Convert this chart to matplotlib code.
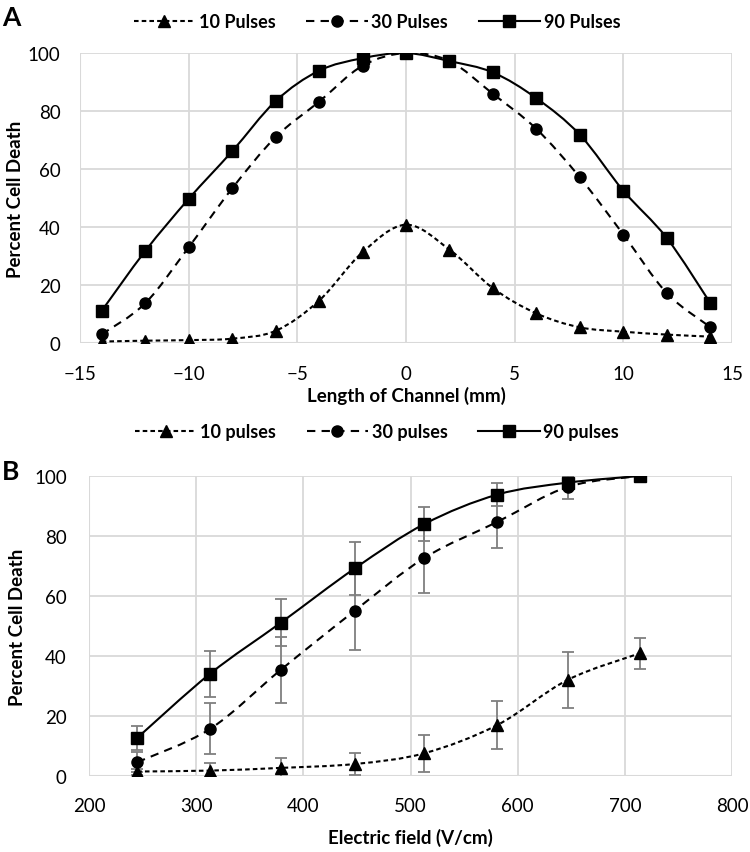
import numpy as np
import matplotlib
matplotlib.use("Agg")
import matplotlib.pyplot as plt
from matplotlib.path import Path
from matplotlib.patches import PathPatch
from matplotlib.lines import Line2D

plt.rcParams['font.family'] = ['Lato', 'DejaVu Sans']

# ---------------- Panel A data ----------------
pos_mm = [-14, -12, -10, -8, -6, -4, -2, 0, 2, 4, 6, 8, 10, 12, 14]
a_10 = [0.5, 0.8, 1.0, 1.5, 4.2, 14.6, 31.3, 40.8, 32.2, 18.9, 10.2, 5.4, 3.9, 2.9, 2.2]
a_30 = [3.0, 13.7, 33.0, 53.3, 71.0, 83.2, 95.6, 100.0, 97.2, 85.9, 73.8, 57.1, 37.4, 17.2, 5.5]
a_90 = [11.1, 31.7, 49.7, 66.1, 83.4, 93.9, 98.2, 100.0, 97.2, 93.3, 84.4, 71.8, 52.5, 36.2, 13.8]
a_labels = ["10 Pulses", "30 Pulses", "90 Pulses"]

# ---------------- Panel B data ----------------
field = [245, 313, 379, 448, 513, 581, 647, 714]
b_10 = [1.5, 1.8, 2.7, 4.0, 7.6, 17.0, 32.1, 40.9]
b_10_err = [1.0, 2.4, 3.3, 3.8, 6.1, 8.0, 9.4, 5.1]
b_30 = [4.6, 15.7, 35.4, 55.1, 72.7, 84.7, 96.4, 100.0]
b_30_err = [3.3, 8.5, 11.0, 13.0, 11.6, 8.8, 4.1, 0.0]
b_90 = [12.7, 34.1, 51.1, 69.2, 84.0, 93.8, 97.8, 100.0]
b_90_err = [4.0, 7.7, 7.9, 8.7, 5.7, 3.8, 2.0, 0.0]
b_labels = ["10 pulses", "30 pulses", "90 pulses"]

GRID = "#d9d9d9"
ERR = "#7f7f7f"
LW = 1.5
styles = [
    dict(marker="^", ls=(0, (2.2, 1.5)), ms=8),
    dict(marker="o", ls=(0, (4, 3)), ms=8),
    dict(marker="s", ls="-", ms=8.5),
]


def smooth_path(x, y):
    x = np.asarray(x, float)
    y = np.asarray(y, float)
    P = np.column_stack([x, y])
    n = len(P)
    verts = [P[0]]
    codes = [Path.MOVETO]
    for i in range(n - 1):
        p0 = P[i - 1] if i > 0 else P[i]
        p1 = P[i]
        p2 = P[i + 1]
        p3 = P[i + 2] if i + 2 < n else P[i + 1]
        c1 = p1 + (p2 - p0) / 6.0
        c2 = p2 - (p3 - p1) / 6.0
        verts += [c1, c2, p2]
        codes += [Path.CURVE4] * 3
    return Path(verts, codes)


def draw_series(ax, x, y, st, err=None):
    patch = PathPatch(smooth_path(x, y), fill=False, edgecolor="black",
                      lw=LW, linestyle=st["ls"], zorder=3)
    ax.add_patch(patch)
    if err is not None:
        ax.errorbar(x, y, yerr=err, fmt="none", ecolor=ERR, elinewidth=1.3,
                    capsize=4, capthick=1.3, zorder=2)
    ax.plot(x, y, linestyle="none", marker=st["marker"], ms=st["ms"],
            color="black", zorder=4)


def style_axes(ax, xpad, ypad):
    for s in ax.spines.values():
        s.set_visible(False)
    ax.grid(True, color=GRID, lw=1.3)
    ax.set_axisbelow(True)
    ax.tick_params(axis="x", length=0, labelsize=13.5, pad=xpad)
    ax.tick_params(axis="y", length=0, labelsize=13.5, pad=ypad)
    ax.axvline(ax.get_xlim()[0], color=GRID, lw=1.5, zorder=1)
    ax.axhline(0, color=GRID, lw=1.5, zorder=1)


def make_handles():
    return [Line2D([], [], color="black", lw=LW, linestyle=st["ls"],
                   marker=st["marker"], ms=st["ms"]) for st in styles]


def add_legend(fig, labels, y):
    fig.legend(make_handles(), labels, loc="center", bbox_to_anchor=(377 / 750, 1 - y / 853),
               ncol=3, frameon=False, handlelength=3.4, columnspacing=1.7,
               handletextpad=0.2, borderaxespad=0, borderpad=0,
               prop=dict(size=13, weight="bold"))


fig = plt.figure(figsize=(7.5, 8.53), dpi=100)

# Panel A
axA = fig.add_axes([80 / 750, 1 - 344 / 853, (732 - 80) / 750, (344 - 54) / 853])
axA.set_xlim(-15, 15)
axA.set_ylim(0, 100)
axA.set_xticks(np.arange(-15, 16, 5))
axA.set_yticks(np.arange(0, 101, 20))
for yv, st in zip([a_10, a_30, a_90], styles):
    draw_series(axA, pos_mm, yv, st)
style_axes(axA, 16, 14)
axA.set_xlabel("Length of Channel (mm)", fontsize=13.5, fontweight="bold", labelpad=3)
axA.set_ylabel("Percent Cell Death", fontsize=13.5, fontweight="bold", labelpad=3)
add_legend(fig, a_labels, 23)
fig.text(2 / 750, 1 - 18 / 853, "A", fontsize=19, fontweight="bold", va="center", ha="left")

# Panel B
axB = fig.add_axes([89 / 750, 1 - 777 / 853, (732 - 89) / 750, (777 - 477) / 853])
axB.set_xlim(200, 800)
axB.set_ylim(0, 100)
axB.set_xticks(np.arange(200, 801, 100))
axB.set_yticks(np.arange(0, 101, 20))
for yv, ev, st in zip([b_10, b_30, b_90], [b_10_err, b_30_err, b_90_err], styles):
    draw_series(axB, field, yv, st, err=ev)
style_axes(axB, 15, 16)
axB.set_xlabel("Electric field (V/cm)", fontsize=13.5, fontweight="bold", labelpad=10)
axB.set_ylabel("Percent Cell Death", fontsize=13.5, fontweight="bold", labelpad=6)
add_legend(fig, b_labels, 433)
fig.text(2 / 750, 1 - 472 / 853, "B", fontsize=19, fontweight="bold", va="center", ha="left")

fig.savefig("out.png", dpi=100)
